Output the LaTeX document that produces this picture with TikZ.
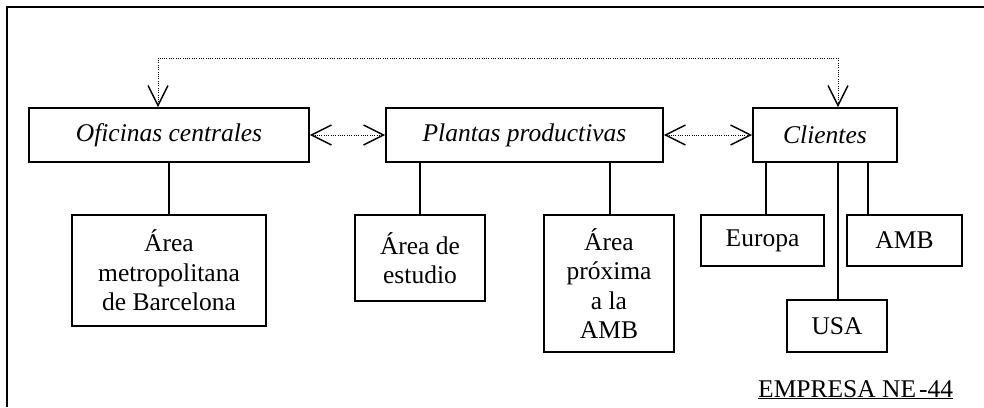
\documentclass[tikz,border=0pt]{standalone}
\usepackage{fontspec}
\setmainfont{Liberation Serif}
\usetikzlibrary{arrows.meta}
\begin{document}
\begin{tikzpicture}[x=1pt,y=-1pt,
  box/.style={draw, line width=1.6pt, inner sep=0pt, align=center, font=\fontsize{25.5}{29.5}\selectfont},
  topbox/.style={box, minimum height=54pt, font=\fontsize{25.5}{29.5}\selectfont\itshape},
  link/.style={line width=1.6pt},
  barb/.tip={Straight Barb[length=20pt,width=20pt,line width=1.5pt]},
  dotarrow/.style={line width=1pt, dash pattern=on 1pt off 1.3pt, barb-barb},
  frame/.style={line width=1.5pt},
]
\useasboundingbox (0,0) rectangle (984,407);
% frame (only left and top edges visible)
\coordinate (fbl) at (7,407);
\coordinate (ftl) at (7,7);
\coordinate (ftr) at (984,7);
\draw[frame] (fbl) -- (ftl) -- (ftr);

% top row
\node[topbox, minimum width=280pt] (ofi) at (169,135) {Oficinas centrales};
\node[topbox, minimum width=277pt] (pla) at (524.5,135) {Plantas productivas};
\node[topbox, minimum width=144pt] (cli) at (825,135) {Clientes};

% lower boxes
\node[box, minimum width=194pt, minimum height=111pt] (amet) at (169,270.5) {Área\\metropolitana\\de Barcelona};
\node[box, minimum width=130pt, minimum height=86pt] (est) at (420,258) {Área de\\estudio};
\node[box, minimum width=130pt, minimum height=137pt] (prox) at (609,283.5) {Área\\próxima\\a la\\AMB};
\node[box, minimum width=123pt, minimum height=51pt] (eur) at (762.5,240.5) {Europa};
\node[box, minimum width=100pt, minimum height=52pt] (usa) at (837,326) {USA};
\node[box, minimum width=115pt, minimum height=51pt] (amb) at (904.5,240.5) {AMB};

% tree links
\draw[link] (ofi.south) -- (amet.north);
\draw[link] (est.north |- pla.south) -- (est.north);
\draw[link] ([xshift=1pt]prox.north |- pla.south) -- ([xshift=1pt]prox.north);
\draw[link] ([xshift=3.5pt]eur.north |- cli.south) -- ([xshift=3.5pt]eur.north);
\draw[link] ([xshift=1pt]usa.north |- cli.south) -- ([xshift=1pt]usa.north);
\draw[link] ([xshift=-36.5pt]amb.north |- cli.south) -- ([xshift=-36.5pt]amb.north);

% dotted double arrows
\draw[dotarrow] (ofi.east) -- (pla.west);
\draw[dotarrow] (pla.east) -- (cli.west);
\coordinate (tl) at (158,58);
\coordinate (tr) at (838,58);
\draw[dotarrow] ([xshift=-11pt]ofi.north) -- (tl) -- (tr) -- ([xshift=13pt]cli.north);

% caption
\node[anchor=base west, inner sep=0pt, font=\fontsize{25.5}{29.5}\selectfont] (cap) at (758,397) {\underline{EMPRESA NE\kern3pt-44}};
\end{tikzpicture}
\end{document}
